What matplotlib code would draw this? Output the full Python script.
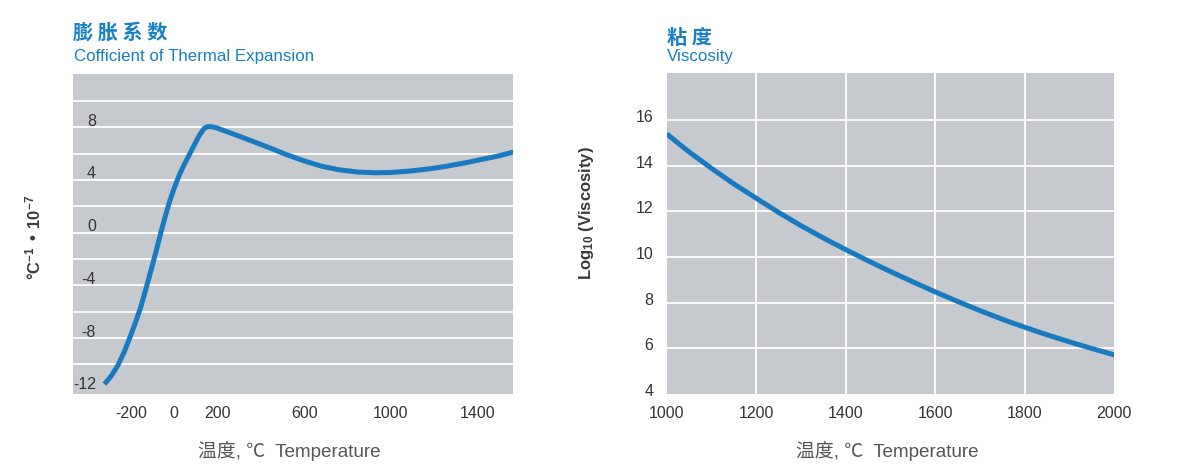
import numpy as np
import matplotlib
matplotlib.use("Agg")
import matplotlib.pyplot as plt
from matplotlib.transforms import ScaledTranslation

plt.rcParams['font.family'] = ['Liberation Sans', 'Noto Sans CJK SC', 'DejaVu Sans']
plt.rcParams['mathtext.default'] = 'regular'
plt.rcParams['axes.unicode_minus'] = False

# thermal expansion (left)
cte_temp = [-323, -290, -260, -230, -205, -180, -155, -130, -105, -80, -60, -40, -20,
            0, 25, 50, 75, 100, 120, 140, 158, 178, 200, 280, 360, 440, 515, 600,
            680, 760, 850, 930, 1000, 1090, 1180, 1260, 1350, 1420, 1500, 1567]
cte_val = [-11.5, -10.85, -10.05, -9.0, -7.95, -6.85, -5.65, -4.2, -2.7, -1.15, 0.15,
           1.35, 2.45, 3.4, 4.45, 5.3, 6.1, 6.9, 7.5, 7.95, 8.07, 8.03, 7.93, 7.45,
           6.95, 6.45, 5.95, 5.45, 5.05, 4.78, 4.6, 4.55, 4.57, 4.68, 4.85, 5.05,
           5.32, 5.56, 5.83, 6.12]
cte_xticks = [-200, 0, 200, 600, 1000, 1400]
cte_yticks = [8, 4, 0, -4, -8, -12]
cte_grid = np.arange(-10, 11, 2)

# viscosity (right)
visc_temp = [1000, 1050, 1100, 1150, 1200, 1250, 1300, 1350, 1400, 1450, 1500,
             1550, 1600, 1650, 1700, 1750, 1800, 1850, 1900, 1950, 2000]
visc_val = [15.39, 14.60, 13.88, 13.20, 12.57, 11.95, 11.37, 10.83, 10.32, 9.83,
            9.36, 8.91, 8.47, 8.05, 7.65, 7.27, 6.92, 6.59, 6.28, 5.99, 5.71]
visc_xticks = [1000, 1200, 1400, 1600, 1800, 2000]
visc_yticks = [4, 6, 8, 10, 12, 14, 16]

bg = '#c6c9cd'
blue = '#1a7abf'
title_blue = '#1a80c4'
xlabel_text = '温度, ℃  Temperature'

fig = plt.figure(figsize=(11.78, 4.74), dpi=100)
ax1 = fig.add_axes([0.0622, 0.1688, 0.3735, 0.6751])
ax2 = fig.add_axes([0.566, 0.1688, 0.38, 0.6778])

for ax in (ax1, ax2):
    ax.set_facecolor(bg)
    for s in ax.spines.values():
        s.set_visible(False)
    ax.tick_params(which='both', length=0, labelsize=11.5, labelcolor='#333333')

# left chart
for g in cte_grid:
    ax1.axhline(g, color='white', lw=1.3, zorder=1)
ax1.plot(cte_temp, cte_val, color=blue, lw=3.6, solid_capstyle='butt',
         solid_joinstyle='round', zorder=3)
ax1.set_xlim(-467, 1567)
ax1.set_ylim(-12.25, 12.05)
ax1.set_xticks(cte_xticks)
ax1.set_yticks(cte_yticks)
ax1.tick_params(axis='y', pad=-16.3)
ax1.tick_params(axis='x', pad=9)
off = ScaledTranslation(0, 7.5 / 100, fig.dpi_scale_trans)
for lab in ax1.get_yticklabels():
    lab.set_transform(lab.get_transform() + off)
ax1.set_xlabel(xlabel_text, fontsize=13.6, color='#555555', va='center')
ax1.xaxis.set_label_coords(0.492, -0.178)
ax1.set_ylabel('°C$^{-1}$ • 10$^{-7}$', fontsize=12, fontweight='bold', color='#3a3a3a', va='center')
ax1.yaxis.set_label_coords(-0.0916, 0.488)

# right chart
for g in visc_yticks[1:]:
    ax2.axhline(g, color='white', lw=1.3, zorder=1)
for g in visc_xticks[1:-1]:
    ax2.axvline(g, color='white', lw=1.3, zorder=1)
ax2.plot(visc_temp, visc_val, color=blue, lw=3.6, solid_capstyle='butt',
         solid_joinstyle='round', zorder=3)
ax2.set_xlim(1000, 2000)
ax2.set_ylim(4, 18.07)
ax2.set_xticks(visc_xticks)
ax2.set_yticks(visc_yticks)
ax2.tick_params(axis='y', pad=9.5)
ax2.tick_params(axis='x', pad=9)
off2 = ScaledTranslation(0, 4 / 100, fig.dpi_scale_trans)
for lab in ax2.get_yticklabels():
    lab.set_transform(lab.get_transform() + off2)
ax2.set_xlabel(xlabel_text, fontsize=13.6, color='#555555', va='center')
ax2.xaxis.set_label_coords(0.492, -0.178)
ax2.set_ylabel('Log$_{10}$ (Viscosity)', fontsize=12, fontweight='bold', color='#3a3a3a', va='center')
ax2.yaxis.set_label_coords(-0.18, 0.563)

# titles
fig.text(73 / 1178, 1 - 33 / 474, '膨 胀 系 数', fontsize=14.5, fontweight='bold',
         color=title_blue, family=['Noto Sans CJK SC'], va='center', ha='left')
fig.text(74 / 1178, 1 - 61.5 / 474, 'Cofficient of Thermal Expansion', fontsize=12.2,
         color=title_blue, va='baseline', ha='left')
fig.text(667 / 1178, 1 - 37.5 / 474, '粘 度', fontsize=14.5, fontweight='bold',
         color=title_blue, family=['Noto Sans CJK SC'], va='center', ha='left')
fig.text(667 / 1178, 1 - 61 / 474, 'Viscosity', fontsize=12.2,
         color=title_blue, va='baseline', ha='left')

fig.savefig('out.png', dpi=100, facecolor='white')
